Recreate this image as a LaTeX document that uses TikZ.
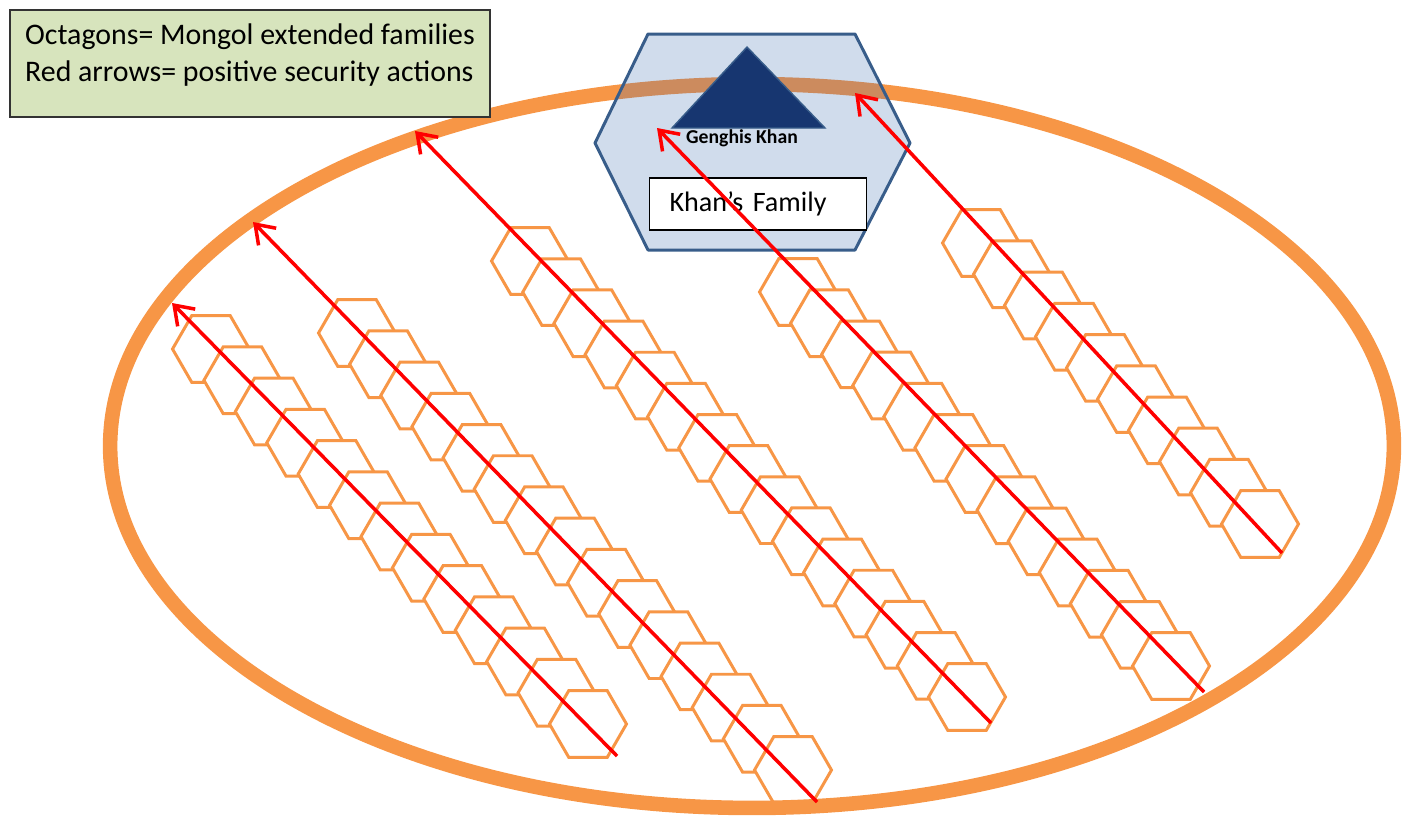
\documentclass[tikz,border=0pt]{standalone}
\usepackage{fontspec}
\setmainfont{Carlito}
\usepackage{tikz}
\usetikzlibrary{arrows.meta,calc,shapes.geometric,positioning}
\definecolor{hexorange}{RGB}{247,150,70}
\definecolor{legendgreen}{RGB}{215,228,189}
\definecolor{khanblue}{RGB}{208,220,236}
\definecolor{khanborder}{RGB}{56,93,138}
\definecolor{khannavy}{RGB}{23,54,112}
\definecolor{bandbrown}{RGB}{204,139,94}
\tikzset{
  hexcell/.style={regular polygon,regular polygon sides=6,draw=hexorange,fill=white,line width=1.7pt,minimum size=1.54cm,inner sep=0pt},
  secarrow/.style={red,line width=2pt,-{Straight Barb[length=10pt,width=14pt]}},
  band/.style={hexorange,line width=8.3pt},
  legendbox/.style={draw=black!80,line width=1.2pt,fill=legendgreen,minimum width=9.6cm,minimum height=2.14cm},
  familybox/.style={draw=black,line width=1.1pt,fill=white,minimum height=1.04cm,inner xsep=0.4cm,text width=3.54cm,align=left,font=\fontsize{16}{18}\selectfont}
}

\begin{document}
\begin{tikzpicture}[x=0.02cm,y=-0.02cm]
\useasboundingbox (0,0) rectangle (1405,823);
% families in rows
\foreach \i/\ax/\ay/\bx/\by/\n in {1/211/349/588/724/12, 2/357/333/793/770/14, 3/530/261/967/697/14, 4/798/292/1171/666/12, 5/981/243/1260/524/9}{
  \foreach \k in {0,...,\n}
    \node[hexcell] (c\i-\k) at ($(\ax,\ay)!{\k/\n}!(\bx,\by)$) {};
}
\draw[band] (752,446) ellipse [x radius=12.84cm,y radius=7.24cm];
% Khan's hexagon
\coordinate (k1) at (595,143);
\coordinate (k2) at (648,34);
\coordinate (k3) at (855,34);
\coordinate (k4) at (910,143);
\coordinate (k5) at (855,250);
\coordinate (k6) at (648,250);
\fill[khanblue] (k1) -- (k2) -- (k3) -- (k4) -- (k5) -- (k6) -- cycle;
\begin{scope}
\clip (k1) -- (k2) -- (k3) -- (k4) -- (k5) -- (k6) -- cycle;
\draw[band,bandbrown] (752,446) ellipse [x radius=12.84cm,y radius=7.24cm];
\end{scope}
\draw[khanborder,line width=1.7pt,line join=round] (k1) -- (k2) -- (k3) -- (k4) -- (k5) -- (k6) -- cycle;
\coordinate (apex) at (747,47);
\coordinate (baseL) at (672,128);
\coordinate (baseR) at (825,128);
\draw[khanborder,fill=khannavy,line width=0.8pt] (apex) -- (baseR) -- (baseL) -- cycle;
\node[font=\bfseries\fontsize{11.2}{12}\selectfont,inner sep=0pt] (genghis) at (742,138) {Genghis Khan};
\node[familybox] (family) at (758,204) {Khan's Family};
% security actions
\foreach \i/\sx/\sy/\tx/\ty in {1/617/756/172/303, 2/817/802/253/222, 3/991/723/415/131, 4/1204/692/657/128, 5/1282/553/855/93}{
  \coordinate (s\i) at (\sx,\sy);
  \coordinate (t\i) at (\tx,\ty);
  \draw[secarrow] (s\i) -- (t\i);
}
\node[legendbox] (legend) at (250,63.5) {};
\node[align=left,font=\fontsize{17}{21.5}\selectfont] (legendlines) at (250,55) {Octagons= Mongol extended families\\Red arrows= positive security actions};
\end{tikzpicture}
\end{document}
